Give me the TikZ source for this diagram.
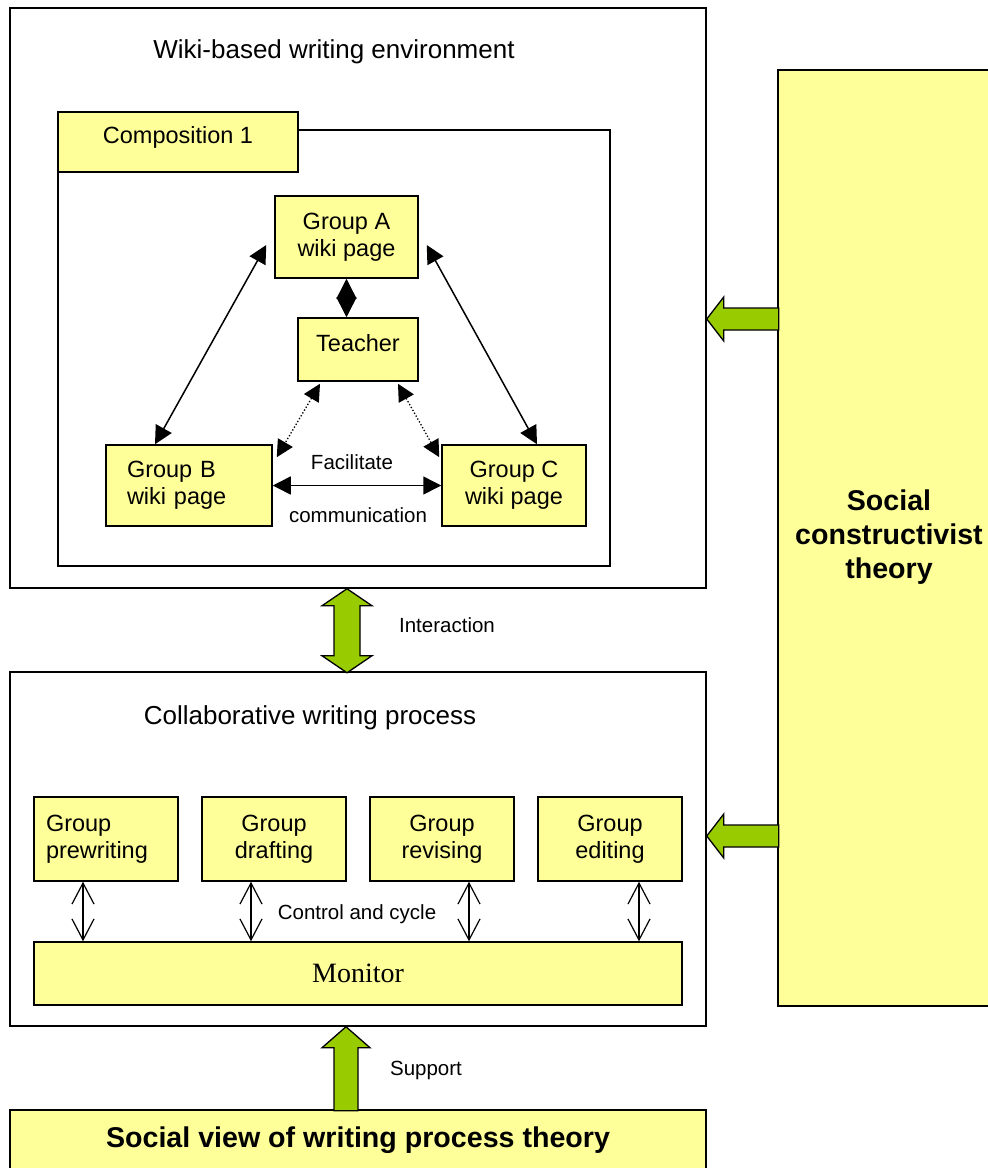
\documentclass[tikz,border=0pt]{standalone}
\usepackage{fontspec}
\setmainfont{Liberation Sans}
\newfontfamily\serifmon{Liberation Serif}
\usetikzlibrary{arrows.meta,calc}
\definecolor{boxyellow}{HTML}{FFFF99}
\definecolor{arrgreen}{HTML}{99CC00}
\begin{document}
\begin{tikzpicture}[x=1pt,y=-1pt,
  ybox/.style={draw=black, line width=1.5pt, fill=boxyellow, inner sep=0pt,
    font=\fontsize{23.5}{27}\selectfont, align=center},
  frame/.style={draw=black, line width=1.5pt, inner sep=0pt},
  lbl/.style={inner sep=0pt, font=\fontsize{20.5}{24}\selectfont},
  ttl/.style={inner sep=0pt, font=\fontsize{26}{30}\selectfont},
  boldtxt/.style={font=\fontsize{28.6}{34}\selectfont\bfseries},
  dblarr/.style={line width=1.5pt, {Triangle[length=18pt,width=18pt]}-{Triangle[length=18pt,width=18pt]}},
  diaarr/.style={line width=1.5pt, {Triangle[length=20pt,width=20pt]}-{Triangle[length=20pt,width=20pt]}},
  dotarr/.style={line width=1.3pt, dotted, {Triangle[length=17pt,width=17pt]}-{Triangle[length=17pt,width=17pt]}},
  openarr/.style={line width=1.2pt, {Straight Barb[length=21pt,width=22pt]}-{Straight Barb[length=21pt,width=22pt]}},
  garrow/.style={draw=black, line width=1.3pt, fill=arrgreen, line join=miter}
]
\path[use as bounding box] (0,0) rectangle (988,1168);
\clip (0,0) rectangle (988,1168);

% ---------- Wiki-based writing environment ----------
\node[frame, minimum width=696, minimum height=580] (wiki) at (358,298) {};
\node[ttl] (wikititle) at (334,52) {Wiki-based writing environment};
\node[frame, minimum width=552, minimum height=436] (comp) at (334,348) {};
\node[ybox, minimum width=240, minimum height=60, text height=17pt, text depth=14pt] (comptab) at (178,142) {Composition 1};
\node[ybox, minimum width=143, minimum height=82] (ga) at (346.5,237) {Group A\\wiki page};
\node[ybox, minimum width=120, minimum height=63, text height=17pt, text depth=13pt] (teacher) at (358,349.5) {Teacher};
\node[ybox, text width=124pt, inner xsep=21pt, minimum height=81, align=left] (gb) at (189,485.5) {Group B\\wiki page};
\node[ybox, minimum width=144, minimum height=81] (gc) at (514,485.5) {Group C\\wiki page};

\draw[dblarr] ($(gb.north)+(-34,0)$) -- ($(ga.west)+(-8,8)$);
\draw[dblarr] ($(gc.north)+(23,0)$) -- ($(ga.east)+(8,8)$);
\draw[diaarr] (ga.south) -- (ga.south |- teacher.north);
\draw[dotarr] ($(teacher.south)+(-38,2)$) -- ($(gb.north east)+(4,13)$);
\draw[dotarr] ($(teacher.south)+(40,2)$) -- ($(gc.north west)+(-2,13)$);
\draw[dblarr] (gb.east) -- (gc.west);
\node[lbl] (facil) at (352,462) {Facilitate};
\node[lbl] (commu) at (358,515) {communication};

% ---------- Collaborative writing process ----------
\node[frame, minimum width=696, minimum height=354] (proc) at (358,849) {};
\node[ttl] (proctitle) at (310,718) {Collaborative writing process};
\node[ybox, text width=120pt, inner xsep=12pt, minimum height=84, align=left] (g1) at (106,839) {Group\\prewriting};
\node[ybox, minimum width=144, minimum height=84] (g2) at (274,839) {Group\\drafting};
\node[ybox, minimum width=144, minimum height=84] (g3) at (442,839) {Group\\revising};
\node[ybox, minimum width=144, minimum height=84] (g4) at (610,839) {Group\\editing};
\node[ybox, minimum width=648, minimum height=63, font=\serifmon\fontsize{28}{32}\selectfont] (monitor) at (358,973.5) {Monitor};

\draw[openarr] ($(g1.south)+(-23,0)$) -- ($(monitor.north -| g1.south)+(-23,0)$);
\draw[openarr] ($(g2.south)+(-23,0)$) -- ($(monitor.north -| g2.south)+(-23,0)$);
\draw[openarr] ($(g3.south)+(27,0)$) -- ($(monitor.north -| g3.south)+(27,0)$);
\draw[openarr] ($(g4.south)+(29,0)$) -- ($(monitor.north -| g4.south)+(29,0)$);
\node[lbl] (ctrl) at (357,914) {Control and cycle};

% ---------- Theories ----------
\node[ybox, minimum width=222, minimum height=936, boldtxt, text depth=8pt] (social) at (889,538) {Social\\constructivist\\theory};
\node[ybox, minimum width=696, minimum height=60, boldtxt] (bottom) at (358,1140) {Social view of writing process theory};

% ---------- Green block arrows ----------
\draw[garrow] ($(wiki.east)+(0,21)$) -- ++(17,-22) -- ++(0,11) -- ++(55,0) -- ++(0,22) -- ++(-55,0) -- ++(0,11) -- cycle;
\draw[garrow] ($(proc.east)+(0,-13)$) -- ++(17,-22) -- ++(0,11) -- ++(55,0) -- ++(0,22) -- ++(-55,0) -- ++(0,11) -- cycle;
% Interaction (double vertical)
\draw[garrow] ($(wiki.south)+(-11,0)$) -- ++(25,17) -- ++(-12,0) -- ++(0,50) -- ++(12,0) -- ++(-25,17)
  -- ++(-25,-17) -- ++(12,0) -- ++(0,-50) -- ++(-12,0) -- cycle;
\node[lbl] (inter) at (447,625) {Interaction};
% Support (up)
\draw[garrow] ($(proc.south)+(-12,0)$) -- ++(24,21) -- ++(-12,0) -- ++(0,63) -- ++(-24,0) -- ++(0,-63) -- ++(-12,0) -- cycle;
\node[lbl] (supp) at (426,1070) {Support};
\end{tikzpicture}
\end{document}
